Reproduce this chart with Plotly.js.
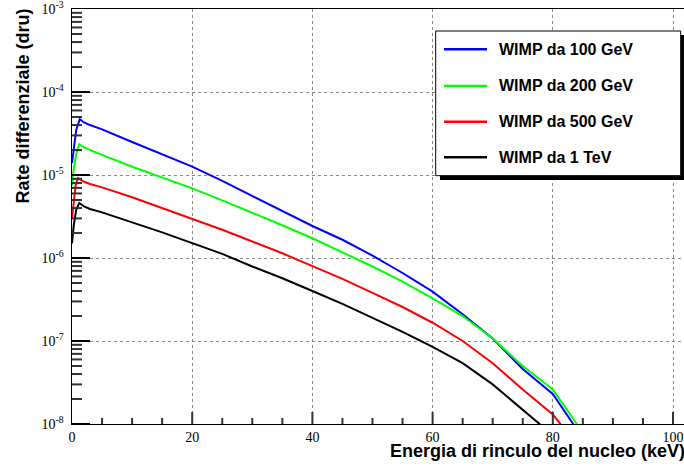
<!DOCTYPE html>
<html>
<head>
<meta charset="utf-8">
<script src="https://cdn.plot.ly/plotly-3.0.1.min.js"></script>
<style>html,body{margin:0;padding:0;background:#fff;}#chart{width:684px;height:472px;}</style>
</head>
<body>
<div id="chart"></div>
<script>
// Data
const seriesNames = ["WIMP da 100 GeV", "WIMP da 200 GeV", "WIMP da 500 GeV", "WIMP da 1 TeV"];
const seriesColors = ["#0000ff", "#00ff00", "#ff0000", "#000000"];

const xBlue = [0, 0.3, 0.7, 1.3, 2, 3, 5, 10, 15, 20, 25, 30, 35, 40, 45, 50, 55, 60, 65, 70, 75, 80, 83.4, 85];
const yBlue = [1.4e-5, 2.2e-5, 3.5e-5, 4.7e-5, 4.3e-5, 4.0e-5, 3.55e-5, 2.5e-5, 1.78e-5, 1.26e-5, 8.5e-6, 5.6e-6, 3.7e-6, 2.43e-6, 1.66e-6, 1.07e-6, 6.6e-7, 3.93e-7, 2.1e-7, 1.07e-7, 4.6e-8, 2.3e-8, 1.0e-8, 7e-9];

const xGreen = [0, 0.3, 0.7, 1.2, 2, 3, 5, 10, 15, 20, 25, 30, 35, 40, 45, 50, 55, 60, 65, 70, 75, 80, 84, 85.5];
const yGreen = [7.5e-6, 1.2e-5, 1.8e-5, 2.35e-5, 2.15e-5, 2.0e-5, 1.75e-5, 1.26e-5, 9.3e-6, 6.9e-6, 4.95e-6, 3.53e-6, 2.48e-6, 1.73e-6, 1.17e-6, 7.9e-7, 5.2e-7, 3.27e-7, 2.0e-7, 1.07e-7, 5.0e-8, 2.6e-8, 1.0e-8, 7e-9];

const xRed = [0, 0.3, 0.6, 1.0, 2, 3, 5, 10, 15, 20, 25, 30, 35, 40, 45, 50, 55, 60, 65, 70, 75, 80, 81.3, 83];
const yRed = [3.0e-6, 5.0e-6, 7.5e-6, 9.2e-6, 8.3e-6, 7.8e-6, 7.1e-6, 5.4e-6, 4.0e-6, 3.0e-6, 2.19e-6, 1.58e-6, 1.14e-6, 8.0e-7, 5.6e-7, 3.8e-7, 2.57e-7, 1.66e-7, 1.0e-7, 5.4e-8, 2.6e-8, 1.3e-8, 1.0e-8, 7e-9];

const xBlack = [0, 0.3, 0.7, 1.2, 2, 3, 5, 10, 15, 20, 25, 30, 35, 40, 45, 50, 55, 60, 65, 70, 75, 77.8, 79];
const yBlack = [1.5e-6, 2.5e-6, 3.8e-6, 4.6e-6, 4.2e-6, 3.9e-6, 3.55e-6, 2.7e-6, 2.04e-6, 1.51e-6, 1.12e-6, 7.9e-7, 5.7e-7, 4.0e-7, 2.8e-7, 1.9e-7, 1.29e-7, 8.5e-8, 5.4e-8, 3.0e-8, 1.48e-8, 1.0e-8, 8e-9];

const yTickVals = [1e-8, 1e-7, 1e-6, 1e-5, 1e-4, 1e-3];
const yTickText = ["10<sup>-8</sup>", "10<sup>-7</sup>", "10<sup>-6</sup>", "10<sup>-5</sup>", "10<sup>-4</sup>", "10<sup>-3</sup>"];
const xTickVals = [0, 20, 40, 60, 80, 100];

const xTitle = "Energia di rinculo del nucleo (keV)";
const yTitle = "Rate differenziale (dru)";

const xs = [xBlue, xGreen, xRed, xBlack];
const ys = [yBlue, yGreen, yRed, yBlack];

const traces = xs.map((x, i) => ({
  x: x, y: ys[i], type: "scatter", mode: "lines", name: seriesNames[i],
  line: {color: seriesColors[i], width: 2}, showlegend: false, hoverinfo: "skip"
}));

// plot area in pixels: x 72..684, y 9..424
const L = 72, R = 684, T = 9, B = 424;
const px = v => (v - L) / (R - L);
const py = v => (B - v) / (B - T);
const yRange = [-8, -2.9995];
const yFrac = v => (Math.log10(v) - yRange[0]) / (yRange[1] - yRange[0]);
const xFull = 100 * (R - L) / (673 - L);

const shapes = [];
const annotations = [];
// log-axis ticks (major 18 px, minor 10 px at 2..9 of each decade), drawn inside the frame
for (let e = -8; e < -3; e++) {
  for (let m = 1; m <= 9; m++) {
    const f = yFrac(m * Math.pow(10, e));
    const len = (m === 1 ? 18 : 10) / (R - L);
    shapes.push({type: "line", xref: "paper", yref: "paper", x0: 0, x1: len, y0: f, y1: f, line: {color: m === 1 ? "#000" : "#333", width: 2}, layer: "above"});
  }
}
// x ticks every 5 keV (6 px) and major every 20 keV (12 px)
for (let v = 5; v < xFull; v += 5) {
  const len = (v % 20 === 0 ? 12 : 6) / (B - T);
  shapes.push({type: "line", xref: "paper", yref: "paper", x0: v / xFull, x1: v / xFull, y0: 0, y1: len, line: {color: "#333", width: 2}, layer: "above"});
}
// legend shadow and box
shapes.push({type: "rect", xref: "paper", yref: "paper", x0: px(440), x1: px(690), y0: py(180), y1: py(35), fillcolor: "#000", line: {width: 0}, layer: "above"});
shapes.push({type: "rect", xref: "paper", yref: "paper", x0: px(435.7), x1: px(680.7), y0: py(175.7), y1: py(31), fillcolor: "#fff", line: {color: "#000", width: 1}, layer: "above"});
const rowY = [49.3, 86, 121.7, 157.3];
seriesNames.forEach((n, i) => {
  shapes.push({type: "line", xref: "paper", yref: "paper", x0: px(444), x1: px(487), y0: py(rowY[i]), y1: py(rowY[i]), line: {color: seriesColors[i], width: 2.5}, layer: "above"});
  annotations.push({xref: "paper", yref: "paper", x: px(497), y: py(rowY[i]), xanchor: "left", yanchor: "middle", showarrow: false, text: "<b>" + n + "</b>", font: {family: "Liberation Sans, Arial", size: 16, color: "#000"}});
});
annotations.push({xref: "paper", yref: "paper", x: px(388), y: py(451), xanchor: "left", yanchor: "middle", showarrow: false, text: "<b>" + xTitle + "</b>", font: {family: "Liberation Sans, Arial", size: 18, color: "#000"}});
annotations.push({xref: "paper", yref: "paper", x: px(22), y: py(7), xanchor: "center", yanchor: "top", textangle: -90, showarrow: false, text: "<b>" + yTitle + "</b>", font: {family: "Liberation Sans, Arial", size: 18, color: "#000"}});

const layout = {
  width: 684, height: 472,
  margin: {l: L, r: 684 - R, t: T, b: 472 - B, pad: 0},
  paper_bgcolor: "#fff", plot_bgcolor: "#fff",
  showlegend: false,
  xaxis: {
    range: [0, xFull],
    tickmode: "array", tickvals: xTickVals,
    ticks: "", ticklabelstandoff: 0,
    showline: true, linecolor: "#000", linewidth: 1.2, mirror: true,
    showgrid: true, gridcolor: "#888", griddash: "dot", gridwidth: 1,
    zeroline: false, ticklabeloverflow: "allow",
    tickfont: {family: "Liberation Serif, Times New Roman", size: 14, color: "#000"}
  },
  yaxis: {
    type: "log", range: yRange, tickmode: "array",
    tickvals: yTickVals, ticktext: yTickText,
    ticks: "", ticklabelstandoff: 4,
    showline: true, linecolor: "#000", linewidth: 1.5, mirror: false,
    showgrid: true, gridcolor: "#888", griddash: "dot", gridwidth: 1,
    zeroline: false, ticklabeloverflow: "allow",
    tickfont: {family: "Liberation Serif, Times New Roman", size: 14, color: "#000"}
  },
  shapes: shapes,
  annotations: annotations
};

Plotly.newPlot("chart", traces, layout, {displayModeBar: false, staticPlot: true});
</script>
</body>
</html>
